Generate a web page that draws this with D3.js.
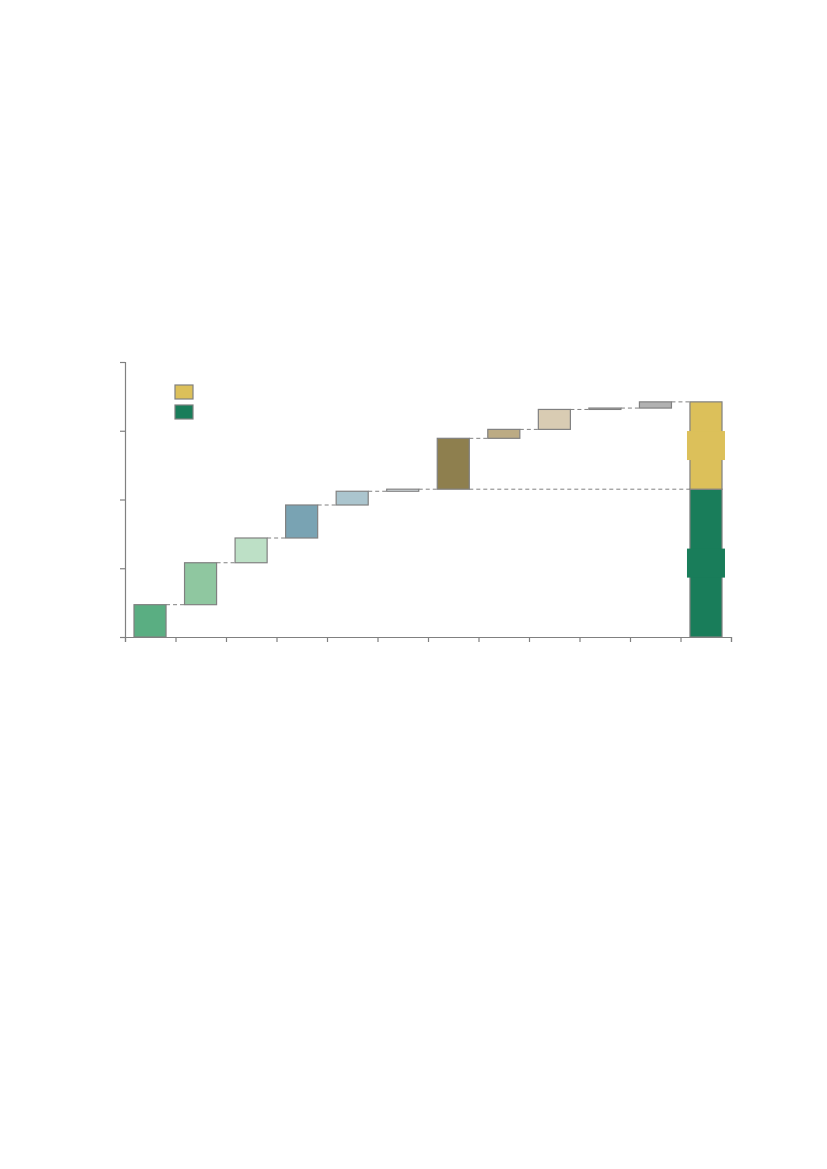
<!DOCTYPE html>
<html>
<head>
<meta charset="utf-8">
<script src="https://cdn.jsdelivr.net/npm/d3@7"></script>
<style>
  html, body { margin: 0; padding: 0; background: #fff; }
  svg { display: block; }
</style>
</head>
<body>
<svg id="chart" width="827" height="1169"></svg>
<script>
// waterfall steps, last column is the stacked total
var categories = ["s1", "s2", "s3", "s4", "s5", "s6", "s7", "s8", "s9", "s10", "s11", "total"];
var deltas = [0.47, 0.61, 0.36, 0.48, 0.20, 0.03, 0.74, 0.13, 0.29, 0.02, 0.09];
var colors = ["#5aae82", "#8fc7a0", "#bde0c6", "#79a3b3", "#abc5ce", "#dfe7ea",
              "#8e7f4e", "#bcab84", "#d9ccb3", "#d8d8d8", "#b1b1b1"];
var groupSize = 6; // first six steps make up the green part of the total
var totalColors = ["#197d5a", "#dcc05a"];
var yTicks = [0, 1, 2, 3, 4];

var svg = d3.select("#chart");
var grey = "#808080";

var x = d3.scaleBand()
    .domain(categories)
    .range([125, 731])
    .paddingInner(0.366)
    .paddingOuter(0.178);

var xEdge = d3.scaleLinear()
    .domain([0, categories.length])
    .range([125, 731]);

var y = d3.scaleLinear()
    .domain([0, 4])
    .range([637, 362]);

// running totals
var steps = [];
var run = 0;
deltas.forEach(function(d, i) {
    steps.push({ name: categories[i], start: run, end: run + d, color: colors[i] });
    run += d;
});
var greenTop = steps[groupSize - 1].end;
var totalSegs = [
    { start: 0, end: greenTop, color: totalColors[0] },
    { start: greenTop, end: run, color: totalColors[1] }
];

// axes
var yAxis = svg.append("g")
    .attr("transform", "translate(125,0)")
    .call(d3.axisLeft(y).tickValues(yTicks).tickSize(5).tickFormat(""));
var xAxis = svg.append("g")
    .attr("transform", "translate(0,637)")
    .call(d3.axisBottom(xEdge).tickValues(d3.range(categories.length + 1)).tickSize(5).tickFormat(""));
[xAxis, yAxis].forEach(function(a) {
    a.selectAll("path").attr("stroke", grey).attr("stroke-width", 1.2);
    a.selectAll("line").attr("stroke", grey).attr("stroke-width", 1.2);
});

// connectors
var conn = svg.append("g")
    .attr("stroke", grey)
    .attr("stroke-width", 1)
    .attr("stroke-dasharray", "4,3");

steps.forEach(function(s, i) {
    var next = categories[i + 1];
    conn.append("line")
        .attr("x1", x(s.name) + x.bandwidth())
        .attr("x2", x(next))
        .attr("y1", y(s.end))
        .attr("y2", y(s.end));
});
// level of the green total carried across to the last column
conn.append("line")
    .attr("x1", x(categories[groupSize]) + x.bandwidth())
    .attr("x2", x("total"))
    .attr("y1", y(greenTop))
    .attr("y2", y(greenTop));

// step bars
svg.append("g").selectAll("rect")
    .data(steps)
    .join("rect")
    .attr("x", function(d) { return x(d.name); })
    .attr("width", x.bandwidth())
    .attr("y", function(d) { return y(d.end); })
    .attr("height", function(d) { return Math.max(1, y(d.start) - y(d.end)); })
    .attr("fill", function(d) { return d.color; })
    .attr("stroke", grey)
    .attr("stroke-width", 1.2);

// total column
var tot = svg.append("g");
tot.selectAll("rect.seg")
    .data(totalSegs)
    .join("rect")
    .attr("class", "seg")
    .attr("x", x("total"))
    .attr("width", x.bandwidth())
    .attr("y", function(d) { return y(d.end); })
    .attr("height", function(d) { return y(d.start) - y(d.end); })
    .attr("fill", function(d) { return d.color; })
    .attr("stroke", grey)
    .attr("stroke-width", 1.2);

// label plates in the middle of each total segment
tot.selectAll("rect.plate")
    .data(totalSegs)
    .join("rect")
    .attr("class", "plate")
    .attr("x", x("total") + x.bandwidth() / 2 - 19)
    .attr("width", 38)
    .attr("y", function(d) { return y((d.start + d.end) / 2) - 14.5; })
    .attr("height", 29)
    .attr("fill", function(d) { return d.color; });

// legend
var legend = svg.append("g").attr("transform", "translate(175,385)");
legend.selectAll("rect")
    .data([totalColors[1], totalColors[0]])
    .join("rect")
    .attr("x", 0)
    .attr("y", function(d, i) { return i * 20; })
    .attr("width", 18)
    .attr("height", 14)
    .attr("fill", function(d) { return d; })
    .attr("stroke", grey)
    .attr("stroke-width", 1.2);
</script>
</body>
</html>
